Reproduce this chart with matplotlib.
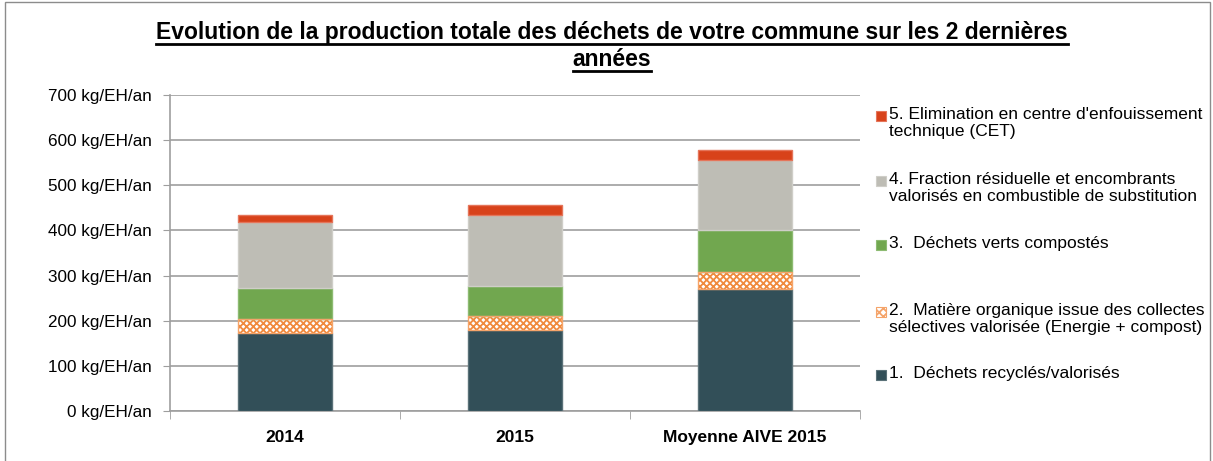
import matplotlib
matplotlib.use("Agg")
import matplotlib.pyplot as plt
import numpy as np
from matplotlib.patches import Rectangle
from matplotlib.lines import Line2D

plt.rcParams['font.family'] = ['Liberation Sans', 'DejaVu Sans']
plt.rcParams['hatch.linewidth'] = 1.3

# data (kg/EH/an)
categories = ["2014", "2015", "Moyenne AIVE 2015"]
recycles = [173, 179, 271]
organique = [30, 31, 38]
verts = [70, 67, 92]
residuel = [145, 158, 156]
cet = [16, 21, 21]

labels = [
    "1.  Déchets recyclés/valorisés",
    "2.  Matière organique issue des collectes\nsélectives valorisée (Energie + compost)",
    "3.  Déchets verts compostés",
    "4. Fraction résiduelle et encombrants\nvalorisés en combustible de substitution",
    "5. Elimination en centre d'enfouissement\ntechnique (CET)",
]
yticks = [0, 100, 200, 300, 400, 500, 600, 700]

colors = ["#324F58", "#FFFFFF", "#71A74F", "#BEBDB5", "#D8421A"]
edges = ["#5A7178", "#F5A46A", "#8DBB72", "#CFCEC8", "#E5755A"]

W, H = 1213, 461
fig = plt.figure(figsize=(W / 100, H / 100), dpi=100)
ax = fig.add_axes([170 / W, 50 / H, 690 / W, 316 / H])

x = np.arange(len(categories))
series = [recycles, organique, verts, residuel, cet]
bottom = np.zeros(len(categories))
for i, vals in enumerate(series):
    if i == 1:
        # checkered orange fill
        ax.bar(x, vals, 0.41, bottom=bottom, color="white", edgecolor="#F08A3C",
               hatch="xxxxx", linewidth=0, zorder=3)
        ax.bar(x, vals, 0.41, bottom=bottom, color="none", edgecolor=edges[i],
               linewidth=1, zorder=4)
    else:
        ax.bar(x, vals, 0.41, bottom=bottom, color=colors[i], edgecolor=edges[i],
               linewidth=1, zorder=3)
    bottom += np.array(vals)

ax.set_xlim(-0.5, 2.5)
ax.set_ylim(0, 700)
ax.set_yticks(yticks)
ax.set_yticklabels([f"{v} kg/EH/an" for v in yticks], fontsize=12.3)
ax.yaxis.grid(True, color="#9E9E9E", linewidth=1.2, zorder=0)
ax.tick_params(axis="y", length=5, color="#9E9E9E", pad=8)
ax.set_xticks(x)
ax.set_xticklabels(categories, fontsize=12.5, fontweight="bold")
ax.set_xticks([-0.5, 0.5, 1.5, 2.5], minor=True)
ax.tick_params(axis="x", which="major", length=0, pad=14)
ax.tick_params(axis="x", which="minor", length=6, color="#9E9E9E")
for s in ["top", "right"]:
    ax.spines[s].set_visible(False)
ax.spines["left"].set_color("#9E9E9E")
ax.spines["bottom"].set_color("#9E9E9E")
ax.spines["left"].set_linewidth(1.2)
ax.spines["bottom"].set_linewidth(1.2)
ax.set_axisbelow(True)

# outer chart frame
fig.patches.append(Rectangle((5 / W, -0.1), 1205 / W, 1.1 - 2 / H,
                             transform=fig.transFigure, fill=False,
                             edgecolor="#8C8C8C", linewidth=1))

# title, underlined
t1 = fig.text(612 / W, 1 - 32 / H, "Evolution de la production totale des déchets de votre commune sur les 2 dernières",
              ha="center", va="center", fontsize=16.5, fontweight="bold")
t2 = fig.text(612 / W, 1 - 59 / H, "années", ha="center", va="center",
              fontsize=16.5, fontweight="bold")

# legend (top to bottom)
leg_y = [116, 181, 245, 312, 375]
order = [4, 3, 2, 1, 0]
for yy, i in zip(leg_y, order):
    if i == 1:
        fig.patches.append(Rectangle((876 / W, 1 - (yy + 5) / H), 10 / W, 10 / H,
                                     transform=fig.transFigure, facecolor="white",
                                     edgecolor="#F5A46A", hatch="xxxx", linewidth=0.8))
    else:
        fig.patches.append(Rectangle((876 / W, 1 - (yy + 5) / H), 10 / W, 10 / H,
                                     transform=fig.transFigure, facecolor=colors[i],
                                     edgecolor=edges[i], linewidth=0.8))
    fig.text(889 / W, 1 - (yy - 9) / H, labels[i], ha="left", va="top",
             fontsize=12.5, linespacing=1.15)

fig.canvas.draw()
r = fig.canvas.get_renderer()
for t in [t1, t2]:
    bb = t.get_window_extent(renderer=r)
    yl = bb.y0 - 1
    fig.add_artist(Line2D([bb.x0 / W, bb.x1 / W], [yl / H, yl / H],
                          transform=fig.transFigure, color="black", linewidth=2))

fig.savefig("out.png", dpi=100)
